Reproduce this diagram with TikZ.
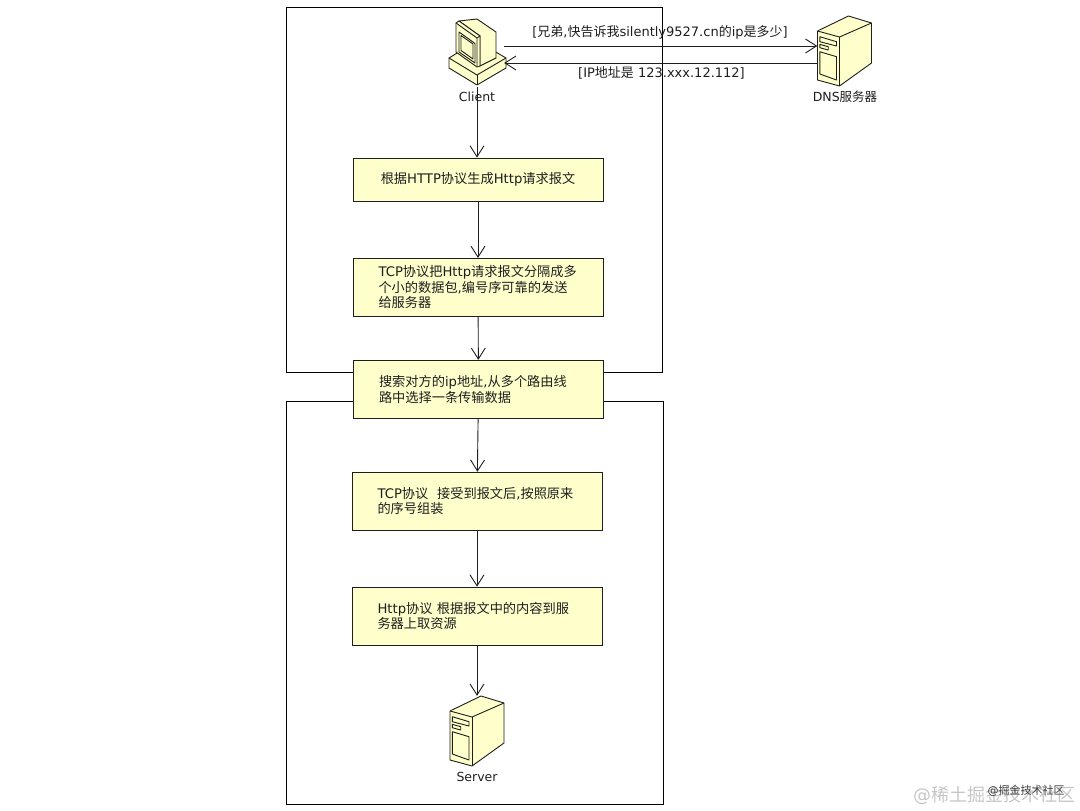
\documentclass[tikz,border=0pt]{standalone}
\usepackage{fontspec}
\setmainfont{DejaVu Sans}
\newfontfamily\cjk{Noto Sans CJK SC}
\newcommand{\zh}[1]{{\cjk #1}}
\usepackage{xcolor}
\usetikzlibrary{arrows.meta, positioning}
\definecolor{boxyellow}{HTML}{FFFFCC}
\definecolor{inkgray}{HTML}{1E1E1E}
\tikzset{
  block/.style={rectangle, draw=inkgray, fill=boxyellow, line width=0.9pt, text width=199pt, inner xsep=25.5pt, inner ysep=0pt, align=left, text=inkgray, font=\fontsize{13.2}{15.5}\selectfont},
  framebox/.style={rectangle, draw=black, line width=0.95pt},
  icon/.style={rectangle, minimum width=54pt, minimum height=70pt, inner sep=0pt},
  caption/.style={text=inkgray, inner sep=0pt, font=\fontsize{12.5}{15}\selectfont},
  arrow/.style={-{Straight Barb[length=11pt, width=14pt]}, draw=inkgray, line width=0.9pt},
  iconpart/.style={draw=inkgray, fill=boxyellow, line width=0.9pt, line join=round},
  servericon/.pic={
    \draw[iconpart] (4,-35) -- (27,-28) -- (27,12) -- (-5,35) -- (-27,29) -- (-27,-20) -- cycle;
    \draw[iconpart] (-27,-20) -- (-5,-14) -- (27,-28);
    \draw[iconpart] (-5,-14) -- (-5,35);
    \draw[iconpart] (-24.7,-14.3) -- (-8,-9.3) -- (-8,-5) -- (-24.7,-9.3) -- cycle;
    \draw[iconpart] (-24.7,-6.7) -- (-16.3,-4.3) -- (-16.3,-1) -- (-24.7,-3.3) -- cycle;
    \draw[iconpart] (-24.7,0.7) -- (-8,5.7) -- (-8,29) -- (-24.7,23) -- cycle;
  },
  computericon/.pic={
    \draw[iconpart] (-28,6) -- (0,-11) -- (29,6) -- (29,16) -- (0,33) -- (-28,16) -- cycle;
    \draw[iconpart] (-28,6) -- (0,23) -- (29,6);
    \draw[iconpart] (0,23) -- (0,33);
    \draw[iconpart] (-18,-31) -- (0,-33) -- (19,-20) -- (19,6) -- (3,14) -- (3,-16) -- cycle;
    \draw[iconpart] (-21,-29) -- (-18,-31) -- (3,-16) -- (3,14) -- (0,15) -- (-21,0) -- cycle;
    \draw[iconpart] (-21,-29) -- (0,-14) -- (0,15);
    \draw[iconpart] (-18,-20) -- (-2,-8.5) -- (-2,11) -- (-18,0) -- cycle;
    \draw[iconpart] (-16,-16.5) -- (-4,-8) -- (-4,7) -- (-16,-1.5) -- cycle;
    \draw[iconpart] (0,-14) -- (3,-16);
  }
}

\begin{document}
\begin{tikzpicture}[x=1pt, y=-1pt]
  \useasboundingbox (0,0) rectangle (1080,811);
  \node[framebox, minimum width=376pt, minimum height=365pt] (clientframe) at (474,189.5) {};
  \node[framebox, minimum width=377pt, minimum height=403pt] (serverframe) at (474.5,602.5) {};

  \node[block, minimum height=43pt, align=center] (genhttp) at (478,179.5) {\zh{根据}HTTP\zh{协议生成}Http\zh{请求报文}};
  \node[block, minimum height=58pt, below=56.5pt of genhttp] (tcpsend) {TCP\zh{协议把}Http\zh{请求报文分隔成多}\\\zh{个小的数据包},\zh{编号序可靠的发送}\\\zh{给服务器}};
  \node[block, minimum height=58pt, below=43pt of tcpsend, xshift=0.5pt] (route) {\zh{搜索对方的}ip\zh{地址},\zh{从多个路由线}\\\zh{路中选择一条传输数据}};
  \node[block, minimum height=58pt, below=53pt of route, xshift=-1.5pt] (tcprecv) {TCP\zh{协议\ \ 接受到报文后},\zh{按照原来}\\\zh{的序号组装}};
  \node[block, minimum height=58pt, below=56pt of tcprecv] (httpres) {Http\zh{协议 根据报文中的内容到服}\\\zh{务器上取资源}};

  \node[icon] (client) at (477,52) {};
  \node[icon] (dns) at (844.5,51) {};
  \node[icon] (server) at (477,731) {};
  \pic at (client.center) {computericon};
  \pic at (dns.center) {servericon};
  \pic at (server.center) {servericon};

  \node[caption] (clientname) at (477,96.5) {Client};
  \node[caption] (dnsname) at (845,97) {DNS\zh{服务器}};
  \node[caption] (servername) at (477,777) {Server};
  \node[caption, font=\fontsize{13}{15}\selectfont] (asktext) at (660,32) {[\zh{兄弟},\zh{快告诉我}silently9527.cn\zh{的}ip\zh{是多少}]};
  \node[caption, font=\fontsize{13}{15}\selectfont] (replytext) at (661.5,73) {[IP\zh{地址是} 123.xxx.12.112]};

  \node[text=gray!45, inner sep=0pt, font=\fontsize{18}{20}\selectfont] (markbig) at (994,795) {@\zh{稀土掘金技术社区}};
  \node[text=black!75, inner sep=0pt, font=\fontsize{11}{12}\selectfont] (marksmall) at (1026,791) {@\zh{掘金技术社区}};

  \draw[arrow] ([yshift=6pt]client.east) -- ([yshift=5pt]dns.west);
  \draw[arrow] ([yshift=-12pt]dns.west) -- ([yshift=-11pt]client.east);
  \draw[arrow] (client.south) -- (client.south |- genhttp.north);
  \draw[arrow] (genhttp) -- (tcpsend);
  \draw[arrow] (tcpsend) -- (route);
  \draw[arrow] (route) -- (tcprecv);
  \draw[arrow] (tcprecv) -- (httpres);
  \draw[arrow] (httpres) -- (server);
\end{tikzpicture}
\end{document}
